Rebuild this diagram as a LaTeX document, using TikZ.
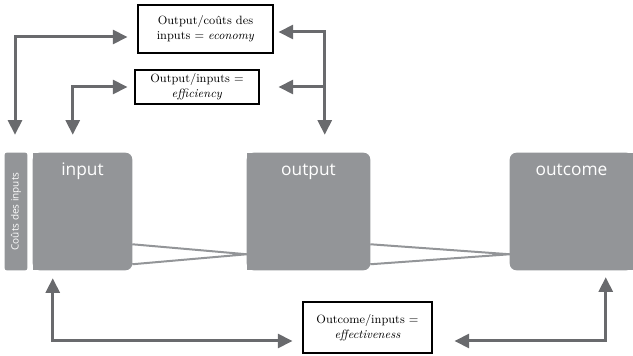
\documentclass[tikz,border=0pt]{standalone}
\usepackage{fontspec}
\usepackage{tikz}
\usetikzlibrary{arrows.meta,calc,backgrounds}
\newfontfamily\stagefont{Open Sans}
\definecolor{boxgray}{RGB}{147,149,152}
\definecolor{arrowgray}{RGB}{105,106,109}

\begin{document}
\begin{tikzpicture}[x=0.75pt, y=-0.75pt,
    stage/.style={minimum width=92.25pt, minimum height=87.75pt, inner sep=0pt},
    stagetext/.style={text=white, font=\stagefont\fontsize{13}{15}\selectfont, inner sep=0pt, anchor=base},
    ratio/.style={draw, line width=0.8pt, inner sep=0pt, align=center, font=\fontsize{9}{11}\selectfont},
    flow/.style={draw=arrowgray, line width=2.25pt},
    link/.style={draw=boxgray, line width=1.5pt, line join=round},
    >={Triangle[length=11pt,width=10.5pt]}]
    \useasboundingbox (0,0) rectangle (633,356);

    % les trois blocs
    \node[stage, minimum width=16.5pt, text=white, font=\stagefont\fontsize{7.5}{9}\selectfont] (cost) at (16,211.5) {\rotatebox{90}{Coûts des inputs}};
    \node[stage, minimum width=74.25pt, label={[stagetext, yshift=-17.25pt]north:input}] (in) at (82.5,211.5) {};
    \node[stage, label={[stagetext, yshift=-17.25pt]north:output}] (out) at (308.5,211.5) {};
    \node[stage, label={[stagetext, yshift=-17.25pt]north:outcome}] (oc) at (571.5,211.5) {};

    \begin{scope}[on background layer]
        \fill[boxgray, rounded corners=1.5pt] (cost.south west) rectangle (cost.north east);
        \fill[boxgray, rounded corners=5pt] (in.south west) rectangle (in.north east);
        \fill[boxgray] (in.south west) rectangle (in.north);
        \fill[boxgray, rounded corners=5pt] (out.south west) rectangle (out.north east);
        \fill[boxgray] (out.south west) rectangle (out.north);
        \fill[boxgray, rounded corners=5pt] (oc.south west) rectangle (oc.north east);
        \fill[boxgray] (oc.south) rectangle (oc.north east);
    \end{scope}

    % les ratios
    \node[ratio, minimum width=101.25pt, minimum height=36pt] (econ) at (205.5,29) {Output/coûts des\\inputs = \textit{economy}};
    \node[ratio, minimum width=93pt, minimum height=25.5pt] (eff) at (197,87) {Output/inputs =\\\textit{efficiency}};
    \node[ratio, minimum width=96.75pt, minimum height=38.25pt] (effect) at (367.5,327.5) {Outcome/inputs =\\\textit{effectiveness}};

    \draw[link] ($(in.south east)+(0,-26)$) -- ($(out.south west)+(0,-16)$) -- ($(in.south east)+(0,-6)$);
    \draw[link] ($(out.south east)+(0,-26)$) -- ($(oc.south west)+(0,-16)$) -- ($(out.south east)+(0,-6)$);

    \draw[flow, <->] ($(cost.north)+(-1,-18)$) |- ($(econ.west)+(-10,8)$);
    \draw[flow, <->] ($(in.north west)+(40,-18)$) |- ($(eff.west)+(-7,0)$);
    \draw[flow, <->] ($(econ.east)+(5,3)$) -| ($(out.north west)+(78,-18)$);
    \draw[flow, <-] ($(eff.east)+(19,0)$) -- ($(eff.east)+(66,0)$);
    \draw[flow, <->] ($(in.south west)+(20,8)$) |- ($(effect.west)+(-10,13.5)$);
    \draw[flow, <->] ($(effect.east)+(22,13.5)$) -| ($(oc.south west)+(96,7)$);
\end{tikzpicture}
\end{document}
